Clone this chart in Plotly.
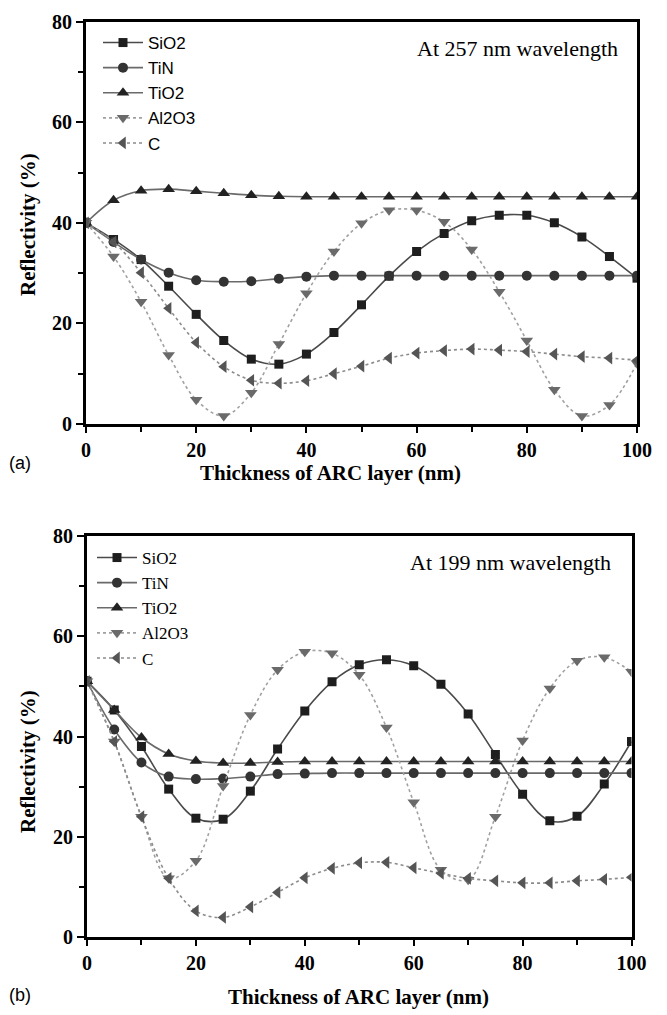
import plotly.graph_objects as go

thickness = [0, 5, 10, 15, 20, 25, 30, 35, 40, 45, 50, 55, 60, 65, 70, 75, 80, 85, 90, 95, 100]

# Panel (a): 257 nm
a_sio2 = [40, 36.7, 32.7, 27.4, 21.8, 16.6, 12.9, 11.9, 13.9, 18.2, 23.7, 29.4, 34.3, 37.9, 40.4, 41.5, 41.5, 40.0, 37.2, 33.3, 29.0]
a_tin = [40, 36.2, 32.7, 30.1, 28.6, 28.3, 28.4, 28.9, 29.3, 29.5, 29.5, 29.5, 29.5, 29.5, 29.5, 29.5, 29.5, 29.5, 29.5, 29.5, 29.5]
a_tio2 = [40, 44.5, 46.4, 46.7, 46.3, 45.9, 45.5, 45.3, 45.2, 45.2, 45.2, 45.2, 45.2, 45.2, 45.2, 45.2, 45.2, 45.2, 45.2, 45.2, 45.2]
a_al2o3 = [40, 33.3, 24.3, 13.7, 4.8, 1.6, 6.2, 15.9, 26.0, 34.3, 39.9, 42.5, 42.5, 40.2, 34.7, 26.3, 16.6, 6.8, 1.6, 3.8, 12.1]
a_c = [40, 36.2, 30.1, 23.0, 16.2, 11.4, 8.7, 8.1, 8.6, 10.0, 11.5, 13.1, 14.1, 14.6, 14.9, 14.7, 14.4, 13.9, 13.4, 13.1, 12.7]

# Panel (b): 199 nm
b_sio2 = [51, 45.3, 38.0, 29.5, 23.7, 23.5, 29.1, 37.5, 45.1, 50.9, 54.3, 55.3, 54.1, 50.4, 44.5, 36.4, 28.5, 23.2, 24.1, 30.5, 39.0]
b_tin = [51, 41.4, 34.8, 32.0, 31.5, 31.6, 32.0, 32.5, 32.6, 32.7, 32.7, 32.7, 32.7, 32.7, 32.7, 32.7, 32.7, 32.7, 32.7, 32.7, 32.7]
b_tio2 = [51, 45.3, 39.8, 36.5, 35.1, 34.7, 34.7, 34.9, 35.0, 35.0, 35.0, 35.0, 35.0, 35.0, 35.0, 35.0, 35.0, 35.0, 35.0, 35.0, 35.0]
b_al2o3 = [51, 39.0, 24.0, 11.7, 15.2, 30.1, 44.3, 53.3, 56.9, 56.6, 52.3, 41.8, 26.9, 13.4, 11.4, 24.0, 39.2, 49.6, 55.1, 55.8, 52.9]
b_c = [51, 39.0, 24.0, 11.7, 5.2, 3.9, 6.0, 8.9, 11.8, 13.7, 14.8, 14.9, 13.8, 12.7, 11.7, 11.2, 10.8, 10.8, 11.2, 11.5, 11.9]

materials = ["SiO2", "TiN", "TiO2", "Al2O3", "C"]
symbols = ["square", "circle", "triangle-up", "triangle-down", "triangle-left"]
line_colors = ["#4a4a4a", "#6a6a6a", "#6a6a6a", "#a0a0a0", "#8c8c8c"]
marker_colors = ["#1e1e1e", "#333333", "#222222", "#6a6a6a", "#555555"]
dashes = ["solid", "solid", "solid", "dot", "dot"]
sizes = [9, 10, 11, 11, 11]

panel_a = [a_sio2, a_tin, a_tio2, a_al2o3, a_c]
panel_b = [b_sio2, b_tin, b_tio2, b_al2o3, b_c]

fig = go.Figure()
for i, name in enumerate(materials):
    fig.add_trace(go.Scatter(
        x=thickness, y=panel_a[i], name=name, mode="lines+markers",
        line=dict(color=line_colors[i], width=1.6, dash=dashes[i], shape="spline", smoothing=1.0),
        marker=dict(symbol=symbols[i], size=sizes[i], color=marker_colors[i]),
        xaxis="x", yaxis="y", legend="legend"))
for i, name in enumerate(materials):
    fig.add_trace(go.Scatter(
        x=thickness, y=panel_b[i], name=name, mode="lines+markers",
        line=dict(color=line_colors[i], width=1.6, dash=dashes[i], shape="spline", smoothing=1.0),
        marker=dict(symbol=symbols[i], size=sizes[i], color=marker_colors[i]),
        xaxis="x2", yaxis="y2", legend="legend2"))

# The page body has an 8px margin, so positions are given in page pixels and shifted.
OFF = 8
W, H = 667 - OFF, 1015 - OFF

def px(x):
    return (x - OFF) / W

def py(y):
    return 1 - (y - OFF) / H

tickfont = dict(family="Liberation Serif", size=20, color="black", weight="bold")

def xax(domain, anchor):
    return dict(domain=domain, anchor=anchor, range=[0, 100], tickvals=[0, 20, 40, 60, 80, 100],
                showline=True, linewidth=2.8, linecolor="black", mirror=True, automargin=False,
                ticks="outside", ticklen=6, tickwidth=2, tickcolor="black",
                minor=dict(ticks="outside", dtick=10, ticklen=5, tickwidth=2, tickcolor="black"),
                showgrid=False, zeroline=False, tickfont=tickfont)

def yax(domain, anchor):
    return dict(domain=domain, anchor=anchor, range=[0, 80], tickvals=[0, 20, 40, 60, 80],
                showline=True, linewidth=2.8, linecolor="black", mirror=True, automargin=False,
                ticks="outside", ticklen=7, tickwidth=2, tickcolor="black",
                minor=dict(ticks="outside", dtick=10, ticklen=5, tickwidth=2, tickcolor="black"),
                showgrid=False, zeroline=False, tickfont=tickfont)

fig.update_layout(
    width=W, height=H, margin=dict(l=0, r=0, t=0, b=0, autoexpand=False),
    paper_bgcolor="white", plot_bgcolor="white",
    xaxis=xax([px(86), px(637)], "y"),
    yaxis=yax([py(424), py(21.7)], "x"),
    xaxis2=xax([px(87), px(631.5)], "y2"),
    yaxis2=yax([py(937), py(536)], "x2"),
    legend=dict(x=px(98), y=py(25), xanchor="left", yanchor="top", bgcolor="rgba(0,0,0,0)",
                itemwidth=40,
                font=dict(family="Liberation Sans", size=17, color="black"), tracegroupgap=0),
    legend2=dict(x=px(92), y=py(540), xanchor="left", yanchor="top", bgcolor="rgba(0,0,0,0)",
                 itemwidth=40,
                 font=dict(family="Liberation Serif", size=17, color="black"), tracegroupgap=0),
    showlegend=True,
)

title_font = dict(family="Liberation Serif", size=21, color="black", weight="bold")
annots = [
    dict(text="At 257 nm wavelength", x=px(620), y=py(48), xanchor="right", yanchor="middle",
         font=dict(family="Liberation Serif", size=22, color="black")),
    dict(text="At 199 nm wavelength", x=px(613), y=py(562), xanchor="right", yanchor="middle",
         font=dict(family="Liberation Serif", size=22, color="black")),
    dict(text="Reflectivity (%)", x=px(28), y=py(225), textangle=-90, xanchor="center", yanchor="middle",
         font=title_font),
    dict(text="Reflectivity (%)", x=px(28), y=py(762), textangle=-90, xanchor="center", yanchor="middle",
         font=title_font),
    dict(text="Thickness of ARC layer (nm)", x=px(330), y=py(473), xanchor="center", yanchor="middle",
         font=title_font),
    dict(text="Thickness of ARC layer (nm)", x=px(358), y=py(997), xanchor="center", yanchor="middle",
         font=title_font),
    dict(text="(a)", x=px(20), y=py(463), xanchor="center", yanchor="middle",
         font=dict(family="Liberation Sans", size=18, color="black")),
    dict(text="(b)", x=px(20), y=py(995), xanchor="center", yanchor="middle",
         font=dict(family="Liberation Sans", size=18, color="black")),
]
for a in annots:
    a.update(xref="paper", yref="paper", showarrow=False)
fig.update_layout(annotations=annots)

fig.write_html("out.html")
